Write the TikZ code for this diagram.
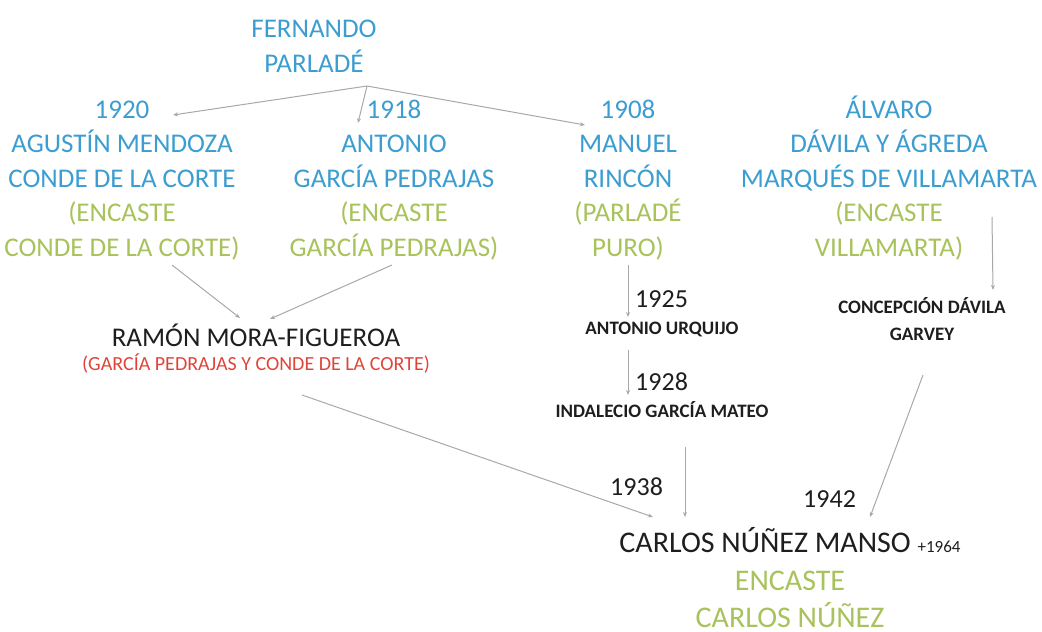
\documentclass[tikz,border=0pt]{standalone}
\usepackage{fontspec}
\setmainfont{Carlito}
\usetikzlibrary{calc,arrows.meta}
\definecolor{cblue}{HTML}{3C9DD0}
\definecolor{cgreen}{HTML}{A8C25C}
\definecolor{cred}{HTML}{E04438}
\definecolor{cdark}{HTML}{1E1E1E}
\definecolor{carrow}{HTML}{A8A8A8}
\tikzset{
  big/.style={inner sep=0pt,anchor=base,align=center,font=\fontsize{27}{34.5}\selectfont},
  small/.style={inner sep=0pt,anchor=base,align=center,text=cdark,font=\bfseries\fontsize{19}{27}\selectfont},
  year/.style={inner sep=0pt,anchor=base west,text=cdark,font=\fontsize{26}{30}\selectfont},
  arr/.style={draw=carrow,line width=1pt,-{Stealth[length=5pt,width=4pt]}}
}
\begin{document}
\begin{tikzpicture}[x=1pt,y=-1pt]
\useasboundingbox (0,0) rectangle (1042,632);
% multi-line nodes: base anchor = baseline of last line
\node[big,text=cblue] (fern) at (314,72) {FERNANDO\\PARLADÉ};
\node[big] (n1920) at (122,256) {\textcolor{cblue}{1920}\\\textcolor{cblue}{AGUSTÍN MENDOZA}\\\textcolor{cblue}{CONDE DE LA CORTE}\\\textcolor{cgreen}{(ENCASTE}\\\textcolor{cgreen}{CONDE DE LA CORTE)}};
\node[big] (n1918) at (394,256) {\textcolor{cblue}{1918}\\\textcolor{cblue}{ANTONIO}\\\textcolor{cblue}{GARCÍA PEDRAJAS}\\\textcolor{cgreen}{(ENCASTE}\\\textcolor{cgreen}{GARCÍA PEDRAJAS)}};
\node[big] (n1908) at (628,256) {\textcolor{cblue}{1908}\\\textcolor{cblue}{MANUEL}\\\textcolor{cblue}{RINCÓN}\\\textcolor{cgreen}{(PARLADÉ}\\\textcolor{cgreen}{PURO)}};
\node[big] (alv) at (889,256) {\textcolor{cblue}{ÁLVARO}\\\textcolor{cblue}{DÁVILA Y ÁGREDA}\\\textcolor{cblue}{MARQUÉS DE VILLAMARTA}\\\textcolor{cgreen}{(ENCASTE}\\\textcolor{cgreen}{VILLAMARTA)}};
\node[big,text=cdark] (ramon) at (256,346) {RAMÓN MORA-FIGUEROA};
\node[inner sep=0pt,anchor=base,text=cred,font=\fontsize{20}{24}\selectfont] (ramsub) at (256,370) {(GARCÍA PEDRAJAS Y CONDE DE LA CORTE)};
\node[year] (y1925) at (635,307) {1925};
\node[small] (urq) at (662,334) {ANTONIO URQUIJO};
\node[year] (y1928) at (635,390) {1928};
\node[small] (ind) at (662,417) {INDALECIO GARCÍA MATEO};
\node[small] (conc) at (922,340) {CONCEPCIÓN DÁVILA\\GARVEY};
\node[year] (y1938) at (610,495) {1938};
\node[year] (y1942) at (803,507) {1942};
\node[inner sep=0pt,anchor=base,text=cdark,font=\fontsize{30}{36}\selectfont] (carlos) at (790,552) {CARLOS NÚÑEZ MANSO {\fontsize{17}{20}\selectfont +1964}};
\node[inner sep=0pt,anchor=base,align=center,text=cgreen,font=\fontsize{30}{37}\selectfont] (enc) at (790,627) {ENCASTE\\CARLOS NÚÑEZ};
% connectors
\coordinate (fj) at ($(fern.base)+(53,14)$);
\draw[arr] (fj) -- ($(n1920.base)+(51,-141)$);
\draw[arr] (fj) -- ($(n1918.base)+(-36,-133)$);
\draw[arr] (fj) -- ($(n1908.base)+(-43,-131)$);
\draw[arr] ($(n1920.base)+(50,9)$) -- ($(ramon.base)+(-16,-28)$);
\draw[arr] ($(n1918.base)+(-2,9)$) -- ($(ramon.base)+(14,-27)$);
\draw[arr] ($(ramon.base)+(46,49)$) -- ($(carlos.base)+(-137,-35)$);
\draw[arr] ($(n1908.base)+(0,9)$) -- ($(urq.base)+(-34,-17)$);
\draw[arr] ($(urq.base)+(-34,16)$) -- ($(ind.base)+(-34,-22)$);
\draw[arr] ($(ind.base)+(23,30)$) -- ($(carlos.base)+(-105,-35)$);
\draw[arr] ($(alv.base)+(103,-39)$) -- ($(conc.base)+(71,-50)$);
\draw[arr] ($(conc.base)+(1,35)$) -- ($(carlos.base)+(80,-35)$);
\end{tikzpicture}
\end{document}
